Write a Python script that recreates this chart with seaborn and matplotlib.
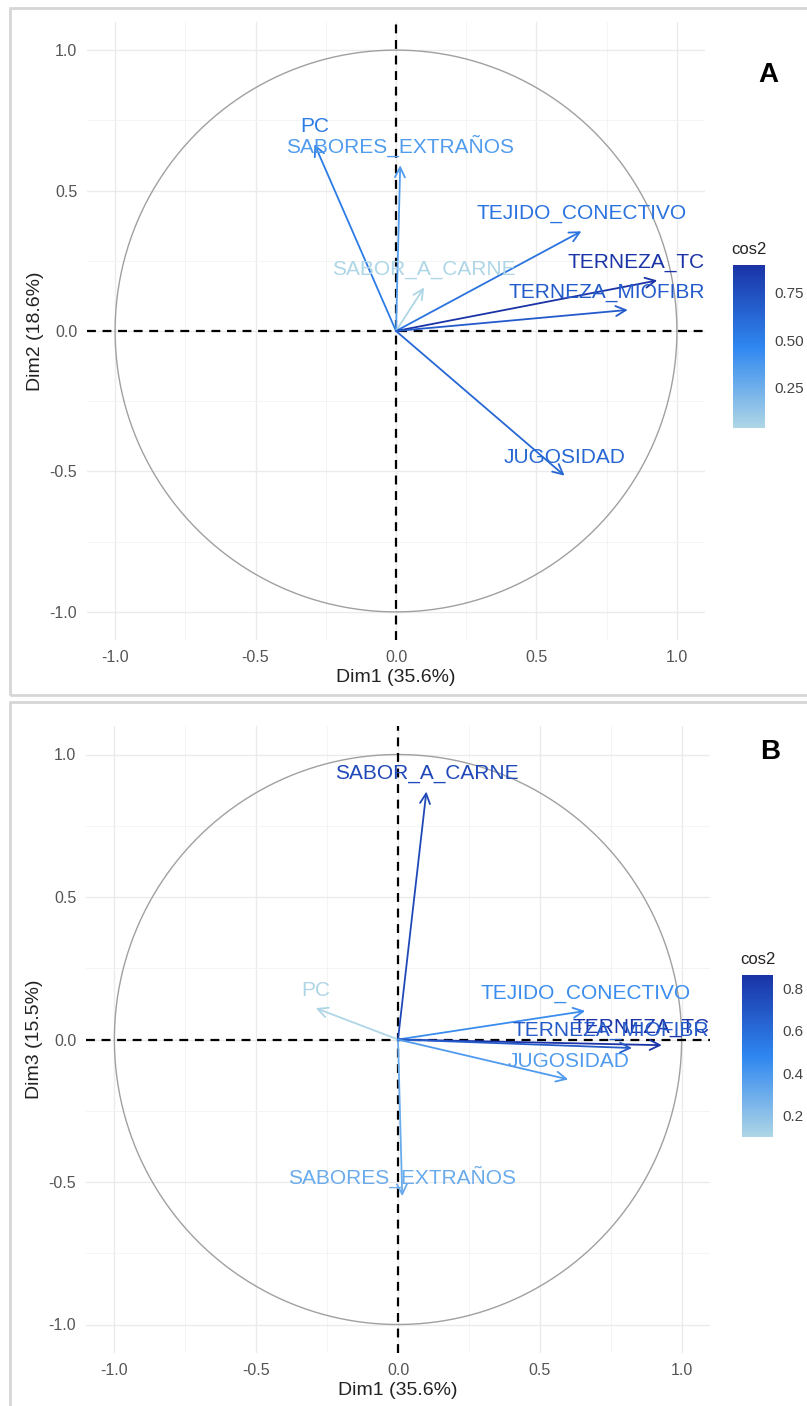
import matplotlib
matplotlib.use("Agg")
import matplotlib.pyplot as plt
import matplotlib.colors as mcolors
import matplotlib.patches as mpatches
from matplotlib.cm import ScalarMappable
import seaborn as sns
import numpy as np

# PCA variable coordinates
variables = ["PC", "SABORES_EXTRAÑOS", "SABOR_A_CARNE", "TEJIDO_CONECTIVO",
             "TERNEZA_TC", "TERNEZA_MIOFIBR", "JUGOSIDAD"]
dim1 = [-0.29, 0.015, 0.10, 0.66, 0.93, 0.825, 0.60]
dim2 = [0.665, 0.59, 0.155, 0.355, 0.18, 0.075, -0.515]
dim3 = [0.11, -0.55, 0.87, 0.10, -0.02, -0.03, -0.14]

xlabel = "Dim1 (35.6%)"
ylabel_a = "Dim2 (18.6%)"
ylabel_b = "Dim3 (15.5%)"
axis_ticks = [-1.0, -0.5, 0.0, 0.5, 1.0]
cbar_ticks_a = [0.25, 0.50, 0.75]
cbar_ticks_b = [0.2, 0.4, 0.6, 0.8]

# labels near the right edge sit a bit left of their arrow tip (points)
label_shift = {"TERNEZA_TC": -15, "TERNEZA_MIOFIBR": -15}

sns.set_theme(style="whitegrid")
plt.rcParams["font.family"] = ["Liberation Sans", "DejaVu Sans"]

cmap = mcolors.LinearSegmentedColormap.from_list(
    "cos2", ["#AED6E6", "#2F86F0", "#1A33A6"])

W, H = 807, 1406
fig = plt.figure(figsize=(W / 100, H / 100), dpi=100)
fig.patch.set_facecolor("white")


def px_axes(l, t, r, b):
    return fig.add_axes([l / W, 1 - b / H, (r - l) / W, (b - t) / H])


def draw_panel(ax, cax, xs, ys, ylabel, cticks, cfmt, letter, letter_xy):
    xs = np.array(xs)
    ys = np.array(ys)
    cos2 = xs ** 2 + ys ** 2
    norm = mcolors.Normalize(cos2.min(), cos2.max())

    ax.set_facecolor("white")
    ax.set_xlim(-1.1, 1.1)
    ax.set_ylim(-1.1, 1.1)
    ax.set_xticks(axis_ticks)
    ax.set_yticks(axis_ticks)
    ax.set_xticks([-0.75, -0.25, 0.25, 0.75], minor=True)
    ax.set_yticks([-0.75, -0.25, 0.25, 0.75], minor=True)
    ax.grid(True, which="major", color="#EBEBEB", lw=1.0)
    ax.grid(True, which="minor", color="#F4F4F4", lw=0.7)
    for s in ax.spines.values():
        s.set_visible(False)
    ax.tick_params(axis="both", which="major", length=3, width=1,
                   color="#444444", labelsize=11.5, labelcolor="#555555", pad=4)
    ax.tick_params(axis="both", which="minor", length=0)
    ax.set_xticklabels([f"{t:.1f}" for t in axis_ticks])
    ax.set_yticklabels([f"{t:.1f}" for t in axis_ticks])
    ax.set_xlabel(xlabel, fontsize=14, color="#222222", labelpad=3)
    ax.set_ylabel(ylabel, fontsize=14, color="#222222", labelpad=4)

    theta = np.linspace(0, 2 * np.pi, 400)
    ax.plot(np.cos(theta), np.sin(theta), color="#A0A0A0", lw=1.0, zorder=2)
    ax.axhline(0, color="black", ls=(0, (4, 3)), lw=1.6, zorder=2)
    ax.axvline(0, color="black", ls=(0, (4, 3)), lw=1.6, zorder=2)

    for name, x, y, c in zip(variables, xs, ys, cos2):
        col = cmap(norm(c))
        ax.annotate("", xy=(x, y), xytext=(0, 0),
                    arrowprops=dict(arrowstyle="->,head_length=0.6,head_width=0.3",
                                    color=col, lw=1.3, shrinkA=0, shrinkB=0),
                    zorder=3)
    for name, x, y, c in zip(variables, xs, ys, cos2):
        col = cmap(norm(c))
        ax.annotate(name, xy=(x, y), xytext=(label_shift.get(name, 0), 6),
                    textcoords="offset points",
                    ha="center", va="bottom", color=col, fontsize=15,
                    clip_on=True, zorder=4)

    cb = fig.colorbar(ScalarMappable(norm=norm, cmap=cmap), cax=cax, ticks=cticks)
    cb.outline.set_visible(False)
    cb.ax.set_yticklabels([cfmt.format(t) for t in cticks])
    cb.ax.tick_params(direction="in", length=5, width=1, color="white",
                      labelsize=11, labelcolor="#444444", pad=7)
    cb.ax.set_title("cos2", fontsize=12, color="#222222", pad=8)

    fig.text(letter_xy[0] / W, 1 - letter_xy[1] / H, letter, fontsize=20,
             fontweight="bold", ha="center", va="center", color="black")


# panel borders (two stacked screenshots)
for top, bottom in [(8, 695), (702, 1412)]:
    fig.patches.append(mpatches.Rectangle(
        (10 / W, 1 - bottom / H), 1.0, (bottom - top) / H,
        transform=fig.transFigure, fill=False, edgecolor="#D6D6D6", lw=2))

ax_a = px_axes(87, 22, 705, 640)
cax_a = px_axes(733, 265, 765, 428)
draw_panel(ax_a, cax_a, dim1, dim2, ylabel_a, cbar_ticks_a, "{:.2f}", "A", (768, 75))

ax_b = px_axes(86, 726, 710, 1353)
cax_b = px_axes(742, 975, 773, 1137)
draw_panel(ax_b, cax_b, dim1, dim3, ylabel_b, cbar_ticks_b, "{:.1f}", "B", (770, 752))

fig.savefig("out.png", dpi=100, facecolor="white")
